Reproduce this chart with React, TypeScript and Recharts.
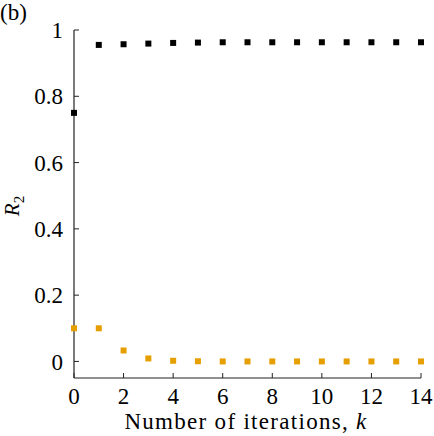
import React from 'react';
import { ScatterChart, Scatter, XAxis, YAxis } from 'recharts';

// iteration index k
const iterations = [0, 1, 2, 3, 4, 5, 6, 7, 8, 9, 10, 11, 12, 13, 14];
// R2 values, black series (upper)
const upperR2 = [0.75, 0.955, 0.957, 0.959, 0.961, 0.962, 0.963, 0.963, 0.963, 0.963, 0.963, 0.963, 0.963, 0.963, 0.963];
// R2 values, orange series (lower)
const lowerR2 = [0.1, 0.1, 0.033, 0.009, 0.002, 0.0005, 0, 0, 0, 0, 0, 0, 0, 0, 0];

const xTicks = [0, 2, 4, 6, 8, 10, 12, 14];
const yTicks = [0, 0.2, 0.4, 0.6, 0.8, 1];

const FONT = 'Liberation Serif';
const AXIS = '#222';
const FS = 23;

const upperData = iterations.map((k, i) => ({ k, r: upperR2[i] }));
const lowerData = iterations.map((k, i) => ({ k, r: lowerR2[i] }));

const squareShape = (color: string) => (props: any) => {
  const { cx, cy } = props;
  return <rect x={cx - 3} y={cy - 3} width={6} height={6} fill={color} />;
};

const YLabel = () => {
  return (
    <text x={19} y={206} transform="rotate(-90 19 206)" textAnchor="middle"
      style={{ fontFamily: FONT }} fontSize={21} fill="#000">
      <tspan fontStyle="italic">R</tspan>
      <tspan fontSize={15} dy={5}>2</tspan>
    </text>
  );
};

const XLabel = () => {
  return (
    <text x={246} y={429} textAnchor="middle" style={{ fontFamily: FONT, letterSpacing: 1.3 }} fontSize={FS} fill="#000">
      Number of iterations, <tspan fontStyle="italic">k</tspan>
    </text>
  );
};

const tickStyle = { fontFamily: FONT, fontSize: FS, fill: '#000' };

export default function App() {
  return (
    <div style={{ position: 'absolute', left: 0, top: 0, width: 434, height: 436, background: '#fff', fontFamily: FONT }}>
      <div style={{ position: 'absolute', left: 0, top: 0, fontFamily: FONT, fontSize: FS, lineHeight: '26px' }}>(b)</div>
      <ScatterChart width={434} height={436} margin={{ top: 30, right: 13, bottom: 0, left: 0 }}
        style={{ fontFamily: FONT }}>
        <XAxis
          xAxisId="bottom"
          dataKey="k"
          type="number"
          domain={[0, 14]}
          ticks={xTicks}
          height={58}
          tickSize={-5}
          tickMargin={15}
          axisLine={{ stroke: AXIS, strokeWidth: 1.2 }}
          tickLine={{ stroke: AXIS }}
          tick={tickStyle}
          label={<XLabel />}
        />
        <XAxis
          xAxisId="top"
          orientation="top"
          dataKey="k"
          type="number"
          domain={[0, 14]}
          ticks={xTicks}
          height={0}
          tickSize={-5}
          tickFormatter={() => ''}
          axisLine={{ stroke: AXIS, strokeWidth: 1.2 }}
          tickLine={{ stroke: AXIS }}
        />
        <YAxis
          yAxisId="left"
          dataKey="r"
          type="number"
          domain={[-0.05, 1]}
          ticks={yTicks}
          width={74}
          tickSize={-5}
          tickMargin={16}
          tickFormatter={(v: number) => String(v)}
          axisLine={{ stroke: AXIS, strokeWidth: 1.2 }}
          tickLine={{ stroke: AXIS }}
          tick={tickStyle}
          label={<YLabel />}
        />
        <YAxis
          yAxisId="right"
          orientation="right"
          dataKey="r"
          type="number"
          domain={[-0.05, 1]}
          ticks={yTicks}
          width={0}
          tickSize={-5}
          tickFormatter={() => ''}
          axisLine={{ stroke: AXIS, strokeWidth: 1.2 }}
          tickLine={{ stroke: AXIS }}
        />
        <Scatter xAxisId="bottom" yAxisId="left" data={lowerData} fill="#E69F00"
          shape={squareShape('#E69F00')} isAnimationActive={false} />
        <Scatter xAxisId="bottom" yAxisId="left" data={upperData} fill="#000"
          shape={squareShape('#000')} isAnimationActive={false} />
      </ScatterChart>
    </div>
  );
}
